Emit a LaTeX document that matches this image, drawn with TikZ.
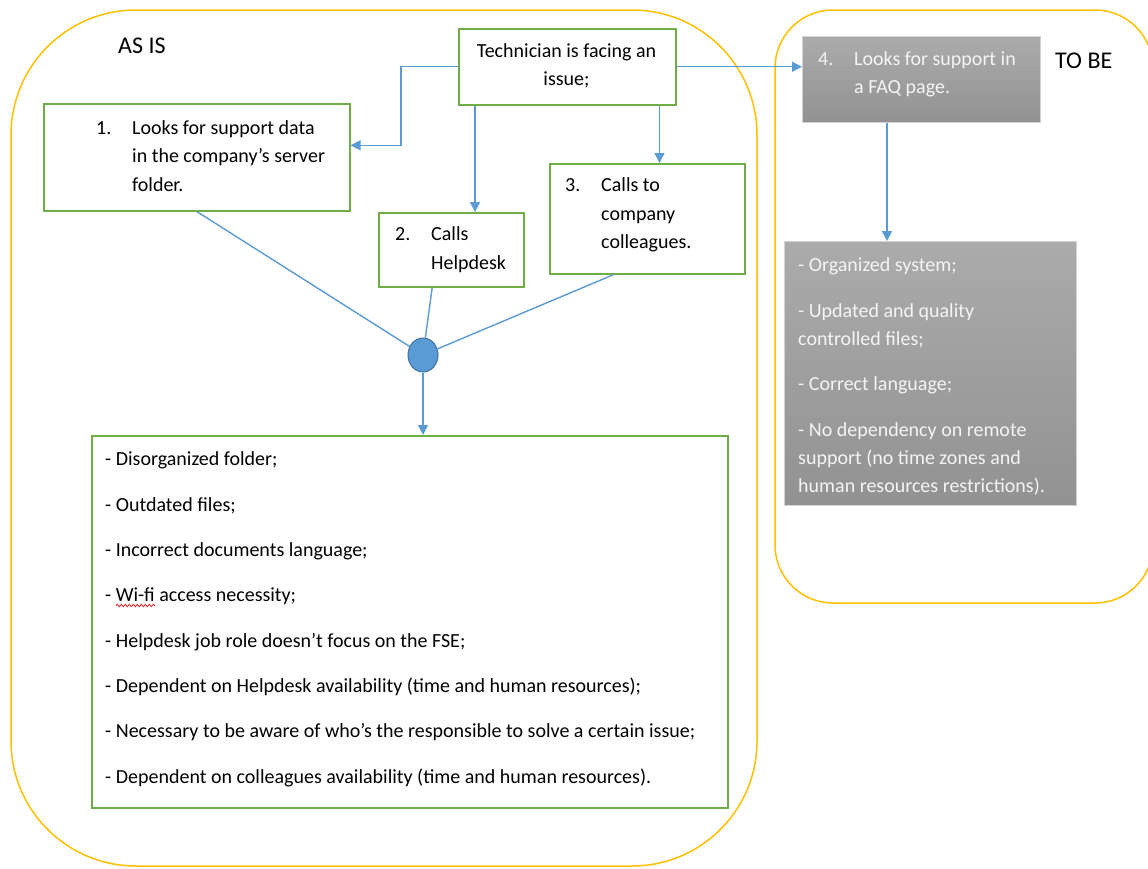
\documentclass[tikz,border=0pt]{standalone}
\usepackage{fontspec}
\setmainfont{Carlito}
\usetikzlibrary{arrows.meta,calc,decorations.pathmorphing,shapes.geometric}

\definecolor{frameorange}{HTML}{FFC000}
\definecolor{boxgreen}{HTML}{70AD47}
\definecolor{linkblue}{HTML}{5B9BD5}
\definecolor{dotedge}{HTML}{41719C}
\definecolor{graytop}{HTML}{ABABAB}
\definecolor{graybot}{HTML}{929292}
\definecolor{grayedge}{HTML}{D2D2D2}
\definecolor{softwhite}{HTML}{F4F4F4}
\definecolor{spellred}{HTML}{E02020}

% text sizes: box text, list text, headings
\newcommand\dfont{\fontsize{20}{28.3}\selectfont}
\newcommand\listfont{\fontsize{20}{45.3}\selectfont}
\newcommand\headfont{\fontsize{24}{28}\selectfont}
% numbered items with a hanging indent
\newcommand\hang[1]{\makebox[36pt][l]{#1}}
\newcommand\ind{\hspace*{36pt}}

\begin{document}
\begin{tikzpicture}[x=1pt,y=-1pt,
  frame/.style={draw=frameorange, line width=1.5pt},
  gbox/.style={draw=boxgreen, line width=1.5pt, fill=white, anchor=north west, inner sep=0pt},
  tbox/.style={draw=grayedge, line width=1pt, top color=graytop, bottom color=graybot, anchor=north west, inner sep=0pt},
  txt/.style={font=\dfont, align=left, inner sep=0pt, anchor=north west},
  link/.style={draw=linkblue, line width=1.4pt},
  arr/.style={link, -{Triangle[length=10pt,width=10pt]}},
  joint/.style={ellipse, fill=linkblue, draw=dotedge, line width=1pt, minimum width=30pt, minimum height=34pt, inner sep=0pt},
  spellwave/.style={draw=spellred, line width=0.8pt, decorate, decoration={snake, segment length=4pt, amplitude=1.2pt}}
]
\useasboundingbox (0,0) rectangle (1148,868);
\clip (0,0) rectangle (1148,868);
\fill[white] (0,0) rectangle (1148,868);

% the two areas
\draw[frame, rounded corners=125pt] (11,10) rectangle (757,866);
\draw[frame, rounded corners=58pt] (775,10) rectangle (1153,603);

% headings
\node[font=\headfont, inner sep=0pt, anchor=base west] (asis) at (118,53.3) {AS IS};
\node[font=\headfont, inner sep=0pt, anchor=base west] (tobe) at (1055,68.3) {TO BE};

% current process boxes
\node[gbox, minimum width=217pt, minimum height=76pt] (tech) at (458,28) {};
\node[gbox, minimum width=306pt, minimum height=107pt] (b1) at (43,103) {};
\node[gbox, minimum width=145pt, minimum height=74pt] (b2) at (378,212) {};
\node[gbox, minimum width=195pt, minimum height=110pt] (b3) at (549,163) {};
\node[gbox, minimum width=636pt, minimum height=372pt] (big) at (91,435) {};
\node[joint] (dot) at (423,355) {};

% future process boxes
\node[tbox, minimum width=238pt, minimum height=86pt] (b4) at (802,36) {};
\node[tbox, minimum width=292pt, minimum height=264pt] (b5) at (784,241) {};

% box texts
\node[txt, align=center, anchor=north] (techtxt) at (566.5,37.5)
  {\strut Technician is facing an\\issue;};
\node[txt] (t1) at (96,114.5)
  {\strut\hang{1.}Looks for support data\\\ind in the company’s server\\\ind folder.};
\node[txt] (t2) at (395,220.9)
  {\strut\hang{2.}Calls\\\ind Helpdesk};
\node[txt] (t3) at (565,171.9)
  {\strut\hang{3.}Calls to\\\ind company\\\ind colleagues.};
\node[txt, text=softwhite] (t4) at (818,45.2)
  {\strut\hang{4.}Looks for support in\\\ind a FAQ page.};
\node[txt, text=softwhite] (t5) at (798,251.9)
  {\strut- Organized system;\\[17pt]- Updated and quality\\controlled files;\\[17pt]- Correct language;\\[17pt]- No dependency on remote\\support (no time zones and\\human resources restrictions).};
\node[txt, font=\listfont] (t6) at (105,434)
  {\strut- Disorganized folder;\\
   - Outdated files;\\
   - Incorrect documents language;\\
   - Wi-fi access necessity;\\
   - Helpdesk job role doesn’t focus on the FSE;\\
   - Dependent on Helpdesk availability (time and human resources);\\
   - Necessary to be aware of who’s the responsible to solve a certain issue;\\
   - Dependent on colleagues availability (time and human resources).};
% spelling mark under "Wi-fi"
\draw[spellwave] ($(t6.north west)+(11,171.5)$) -- ($(t6.north west)+(50,171.5)$);

% connectors
\draw[arr] (tech.west) -- ++(-57,0) |- ($(b1.north east)!0.39!(b1.south east)$);
\draw[arr] ($(tech.south west)+(17,0)$) coordinate (p2) -- (p2 |- b2.north);
\draw[arr] ($(tech.south east)+(-17,0)$) coordinate (p3) -- (p3 |- b3.north);
\draw[arr] (tech.east) -- (tech.east -| b4.west);
\draw[arr] ($(b4.south west)+(85,0)$) coordinate (p4) -- (p4 |- b5.north);

\draw[link] (b1.south) -- (dot);
\draw[link] ($(b2.south west)!0.37!(b2.south east)$) -- (dot);
\draw[link] ($(b3.south west)!0.33!(b3.south east)$) -- (dot);
\draw[arr] (dot.south) -- (dot.south |- big.north);
\end{tikzpicture}
\end{document}
